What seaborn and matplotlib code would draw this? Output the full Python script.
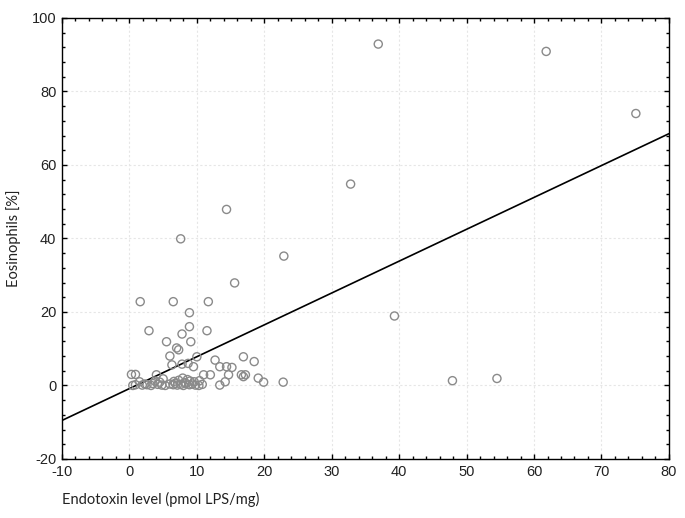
import matplotlib
matplotlib.use("Agg")
import matplotlib.pyplot as plt
import numpy as np
import pandas as pd
import seaborn as sns
from matplotlib.ticker import MultipleLocator

# Data
endotoxin = [
    # outliers / upper points
    36.9, 61.8, 75.1, 32.8, 14.4, 7.6, 22.9, 15.6, 39.3, 47.9, 54.5,
    1.6, 6.5, 11.7, 8.9, 2.9, 7.8, 8.9, 11.5, 5.5, 9.1, 7.0,
    # mid band
    7.3, 10.0, 8.7, 7.8, 9.5, 12.7, 13.4, 14.4, 15.2, 16.9, 18.5,
    6.0, 6.3, 4.0, 0.3, 0.9, 11.0, 12.0, 14.7, 16.6, 17.2, 16.9,
    19.1, 19.9, 22.8, 13.4, 14.2,
    # near zero
    0.5, 0.9, 1.9, 2.3, 2.6, 3.2, 3.5, 4.2, 4.8, 5.3, 6.0, 6.5, 6.8,
    7.1, 7.6, 8.0, 8.4, 8.9, 9.3, 9.8, 10.3, 10.8,
    1.5, 3.8, 4.5, 6.6, 7.3, 8.2, 9.0, 9.6, 10.4, 5.0, 7.9, 8.6,
]
eosinophils = [
    92.9, 90.9, 74.0, 54.8, 47.9, 39.9, 35.2, 27.9, 18.9, 1.3, 1.9,
    22.8, 22.8, 22.8, 19.8, 14.9, 14.0, 16.0, 14.9, 11.9, 11.9, 10.2,
    9.7, 7.8, 6.0, 5.8, 5.1, 6.9, 5.1, 5.1, 4.9, 7.8, 6.5,
    8.0, 5.6, 2.9, 3.0, 3.0, 2.9, 2.9, 2.9, 2.9, 2.9, 2.4,
    2.0, 0.9, 0.9, 0.1, 1.0,
    0.0, 0.2, 0.1, 0.4, 0.2, 0.0, 0.5, 0.3, 0.1, 0.0, 0.4, 0.2, 0.6,
    0.1, 0.3, 0.0, 0.5, 0.2, 0.4, 0.1, 0.0, 0.3,
    1.0, 1.2, 0.9, 1.1, 1.4, 0.8, 1.2, 1.0, 1.3, 1.8, 2.0, 1.6,
]

# Regression line (intercept, slope)
fit_intercept = -0.85
fit_slope = 0.867
x_range = [-10, 80]

df = pd.DataFrame({"x": endotoxin, "y": eosinophils})
line_df = pd.DataFrame({"x": x_range})
line_df["y"] = fit_intercept + fit_slope * line_df["x"]

sns.set_theme(style="white")
plt.rcParams["font.family"] = ["Liberation Sans", "DejaVu Sans"]
plt.rcParams["axes.unicode_minus"] = False

fig = plt.figure(figsize=(6.85, 5.18), dpi=100)
ax = fig.add_axes([0.0905, 0.114, 0.886, 0.8513])

sns.lineplot(data=line_df, x="x", y="y", color="black", linewidth=1.2, ax=ax, zorder=2)
sns.scatterplot(
    data=df, x="x", y="y",
    marker="o", s=34, facecolor="none", edgecolor="#8a8a8a", linewidth=1.0,
    ax=ax, zorder=3
)

ax.set_xlim(-10, 80)
ax.set_ylim(-20, 100)
ax.xaxis.set_major_locator(MultipleLocator(10))
ax.xaxis.set_minor_locator(MultipleLocator(2))
ax.yaxis.set_major_locator(MultipleLocator(20))
ax.yaxis.set_minor_locator(MultipleLocator(4))

ax.grid(True, which="major", color="#e6e6e6", linestyle=(0, (2, 2)), linewidth=0.8)
ax.set_axisbelow(True)

for side in ax.spines.values():
    side.set_color("black")
    side.set_linewidth(1.0)

ax.tick_params(which="both", direction="in", top=True, right=True,
               bottom=True, left=True, color="black", width=1.0,
               labelsize=10.5, labelcolor="#222222")
ax.tick_params(which="major", length=3.5, pad=4)
ax.tick_params(which="minor", length=2.5)

ax.set_xlabel("Endotoxin level (pmol LPS/mg)", family=["Lato", "DejaVu Sans"],
              fontsize=10.5, color="#222222", labelpad=10, loc="left")
ax.set_ylabel("Eosinophils [%]", family=["Lato", "DejaVu Sans"],
              fontsize=10.5, color="#222222", labelpad=8)

fig.savefig("out.png", dpi=100)
